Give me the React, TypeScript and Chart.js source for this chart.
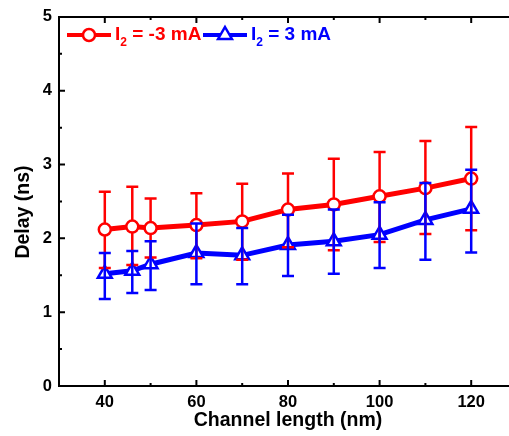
import React, { useEffect, useRef } from "react";
import { Chart, registerables } from "chart.js";

Chart.register(...registerables);

const channelLength = [40, 46, 50, 60, 70, 80, 90, 100, 110, 120];
const redDelay = [2.12, 2.16, 2.14, 2.18, 2.23, 2.39, 2.46, 2.57, 2.68, 2.81];
const redHigh = [2.63, 2.70, 2.54, 2.61, 2.74, 2.88, 3.08, 3.17, 3.32, 3.51];
const redLow = [1.60, 1.64, 1.74, 1.73, 1.71, 1.88, 1.84, 1.95, 2.06, 2.11];
const blueDelay = [1.52, 1.56, 1.65, 1.80, 1.77, 1.91, 1.96, 2.05, 2.25, 2.40];
const blueHigh = [1.80, 1.83, 1.96, 2.20, 2.14, 2.32, 2.39, 2.49, 2.75, 2.93];
const blueLow = [1.18, 1.26, 1.30, 1.38, 1.38, 1.49, 1.52, 1.60, 1.71, 1.81];

const xMajorTicks = [40, 60, 80, 100, 120];
const xMinorTicks = [30, 50, 70, 90, 110, 130];
const yMajorTicks = [0, 1, 2, 3, 4, 5];
const yMinorTicks = [0.5, 1.5, 2.5, 3.5, 4.5];

const xTitle = "Channel length (nm)";
const yTitle = "Delay (ns)";

const RED = "#ff0000";
const BLUE = "#0000ff";
const FONT = "'Liberation Sans', Arial, sans-serif";

function drawErrorBars(chart: any, lo: number[], hi: number[], color: string) {
  const { ctx, scales } = chart;
  const x = scales.x, y = scales.y;
  ctx.save();
  ctx.strokeStyle = color;
  ctx.lineWidth = 2.5;
  for (let i = 0; i < channelLength.length; i++) {
    const px = x.getPixelForValue(channelLength[i]);
    const pl = y.getPixelForValue(lo[i]);
    const ph = y.getPixelForValue(hi[i]);
    ctx.beginPath();
    ctx.moveTo(px, pl);
    ctx.lineTo(px, ph);
    ctx.moveTo(px - 6, pl);
    ctx.lineTo(px + 6, pl);
    ctx.moveTo(px - 6, ph);
    ctx.lineTo(px + 6, ph);
    ctx.stroke();
  }
  ctx.restore();
}

const errorPlugin = {
  id: "errorBars",
  beforeDatasetDraw(chart: any, args: any) {
    if (args.index === 0) drawErrorBars(chart, redLow, redHigh, RED);
  },
  afterDatasetsDraw(chart: any) {
    drawErrorBars(chart, blueLow, blueHigh, BLUE);
  },
};

const framePlugin = {
  id: "frame",
  afterDraw(chart: any) {
    const { ctx, chartArea: a, scales } = chart;
    const x = scales.x, y = scales.y;
    ctx.save();
    ctx.strokeStyle = "#000";
    ctx.lineWidth = 2;
    ctx.lineCap = "square";
    ctx.beginPath();
    ctx.moveTo(a.right + 5, a.top);
    ctx.lineTo(a.left, a.top);
    ctx.lineTo(a.left, a.bottom);
    ctx.lineTo(a.right + 5, a.bottom);
    ctx.stroke();
    ctx.lineCap = "butt";
    ctx.beginPath();
    const xt = (v: number, len: number) => {
      const p = x.getPixelForValue(v);
      ctx.moveTo(p, a.bottom);
      ctx.lineTo(p, a.bottom - len);
      ctx.moveTo(p, a.top);
      ctx.lineTo(p, a.top + len);
    };
    const yt = (v: number, len: number) => {
      const p = y.getPixelForValue(v);
      ctx.moveTo(a.left, p);
      ctx.lineTo(a.left + len, p);
    };
    xMajorTicks.forEach((v) => xt(v, 6));
    xMinorTicks.forEach((v) => xt(v, 3));
    yMajorTicks.forEach((v) => yt(v, 6));
    yMinorTicks.forEach((v) => yt(v, 3));
    ctx.stroke();

    // y axis title
    ctx.translate(24, 212);
    ctx.rotate(-Math.PI / 2);
    ctx.fillStyle = "#000";
    ctx.font = `bold 19.5px ${FONT}`;
    ctx.textAlign = "center";
    ctx.textBaseline = "middle";
    ctx.fillText(yTitle, 0, 0);
    ctx.restore();
  },
};

function drawLegendItem(ctx: any, x0: number, yc: number, color: string, marker: string, text: string) {
  ctx.save();
  ctx.strokeStyle = color;
  ctx.lineWidth = 4;
  ctx.beginPath();
  ctx.moveTo(x0, yc);
  ctx.lineTo(x0 + 44, yc);
  ctx.stroke();
  const mx = x0 + 22;
  ctx.lineWidth = 2.5;
  ctx.fillStyle = "#fff";
  ctx.beginPath();
  if (marker === "circle") {
    ctx.arc(mx, yc, 6, 0, Math.PI * 2);
  } else {
    const r = 8;
    ctx.moveTo(mx, yc - r);
    ctx.lineTo(mx + r * 0.866, yc + r * 0.5);
    ctx.lineTo(mx - r * 0.866, yc + r * 0.5);
    ctx.closePath();
  }
  ctx.fill();
  ctx.stroke();
  ctx.fillStyle = color;
  ctx.textBaseline = "middle";
  ctx.textAlign = "left";
  let tx = x0 + 48;
  ctx.font = `bold 19px ${FONT}`;
  ctx.fillText("I", tx, yc);
  tx += ctx.measureText("I").width;
  ctx.font = `bold 12px ${FONT}`;
  ctx.fillText("2", tx, yc + 8);
  tx += ctx.measureText("2").width;
  ctx.font = `bold 19px ${FONT}`;
  ctx.fillText(text, tx, yc);
  ctx.restore();
}

const legendPlugin = {
  id: "customLegend",
  afterDraw(chart: any) {
    const { ctx } = chart;
    drawLegendItem(ctx, 67, 35, RED, "circle", " = -3 mA");
    drawLegendItem(ctx, 203, 35, BLUE, "triangle", " = 3 mA");
  },
};

export default function App() {
  const ref = useRef<HTMLCanvasElement | null>(null);
  useEffect(() => {
    if (!ref.current) return;
    const chart = new Chart(ref.current, {
      type: "line",
      data: {
        datasets: [
          {
            label: "I2 = -3 mA",
            data: channelLength.map((v, i) => ({ x: v, y: redDelay[i] })),
            borderColor: RED,
            backgroundColor: "#fff",
            borderWidth: 5,
            pointStyle: "circle",
            pointRadius: 6,
            pointBorderWidth: 2.5,
            pointBorderColor: RED,
            pointBackgroundColor: "#fff",
          },
          {
            label: "I2 = 3 mA",
            data: channelLength.map((v, i) => ({ x: v, y: blueDelay[i] })),
            borderColor: BLUE,
            backgroundColor: "#fff",
            borderWidth: 5,
            pointStyle: "triangle",
            pointRadius: 8,
            pointBorderWidth: 2.5,
            pointBorderColor: BLUE,
            pointBackgroundColor: "#fff",
          },
        ],
      },
      options: {
        animation: false,
        responsive: false,
        devicePixelRatio: 1,
        layout: { padding: { top: 14, right: 23, left: 0, bottom: 0 } },
        plugins: { legend: { display: false }, tooltip: { enabled: false } },
        scales: {
          x: {
            type: "linear",
            min: 30,
            max: 130,
            grid: { display: false, drawTicks: false },
            border: { display: false },
            afterBuildTicks: (s: any) => {
              s.ticks = xMajorTicks.map((v) => ({ value: v }));
            },
            afterFit: (s: any) => {
              s.height = 50;
            },
            ticks: {
              color: "#000",
              padding: 7,
              maxRotation: 0,
              font: { family: FONT, size: 16.5, weight: "bold" },
            },
            title: {
              display: true,
              text: xTitle,
              color: "#000",
              padding: { top: 0, bottom: 4 },
              font: { family: FONT, size: 19.5, weight: "bold" },
            },
          },
          y: {
            type: "linear",
            min: 0,
            max: 5,
            grid: { display: false, drawTicks: false },
            border: { display: false },
            afterBuildTicks: (s: any) => {
              s.ticks = yMajorTicks.map((v) => ({ value: v }));
            },
            afterFit: (s: any) => {
              s.width = 59;
            },
            ticks: {
              color: "#000",
              padding: 7,
              font: { family: FONT, size: 16.5, weight: "bold" },
            },
            title: { display: false },
          },
        },
      },
      plugins: [errorPlugin, framePlugin, legendPlugin],
    } as any);
    return () => chart.destroy();
  }, []);
  return (
    <div style={{ position: "absolute", left: 0, top: 0, width: 509, height: 436, overflow: "hidden", background: "#fff" }}>
      <canvas ref={ref} width={540} height={436} style={{ display: "block" }} />
    </div>
  );
}
